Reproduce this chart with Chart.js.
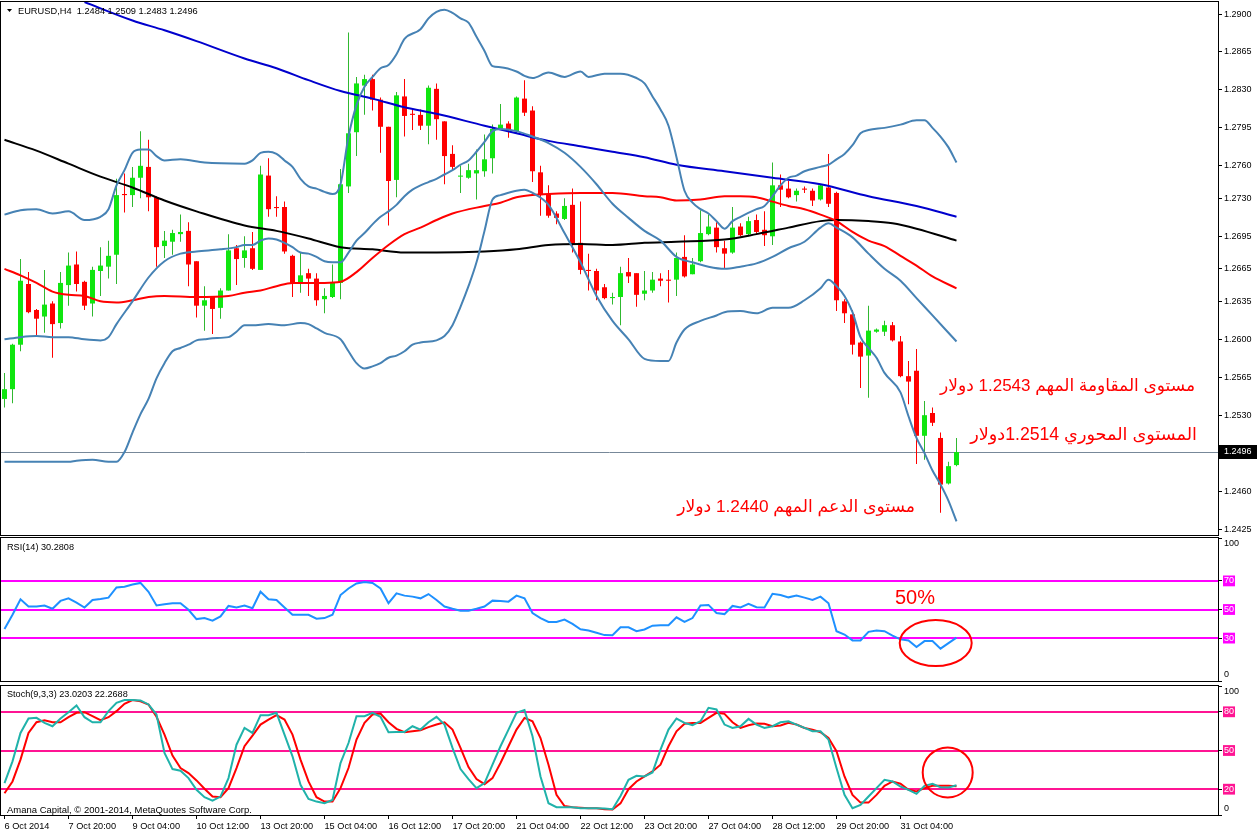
<!DOCTYPE html>
<html>
<head>
<meta charset="utf-8">
<script src="https://cdn.jsdelivr.net/npm/chart.js@4.4.1/dist/chart.umd.min.js"></script>
<style>
html, body { margin: 0; padding: 0; background: #fff; }
#wrap { position: relative; width: 1258px; height: 835px; overflow: hidden; background: #fff; }
canvas { position: absolute; left: 0; }
</style>
</head>
<body>
<div id="wrap">
  <canvas id="main" width="1258" height="536" style="top:0px"></canvas>
  <canvas id="rsi" width="1258" height="147" style="top:536px"></canvas>
  <canvas id="stoch" width="1258" height="152" style="top:683px"></canvas>
</div>
<script>
// EURUSD H4 candles, one per bar
var candleOpen = [
  1.2545, 1.2554, 1.2595, 1.2651, 1.2627, 1.2621, 1.2633, 1.2615, 1.2650, 1.2669,
  1.2653, 1.2633, 1.2663, 1.2667, 1.2678, 1.2734, 1.2733, 1.2749, 1.2759, 1.2731,
  1.2686, 1.2690, 1.2697, 1.2700, 1.2672, 1.2631, 1.2639, 1.2629, 1.2645, 1.2684,
  1.2675, 1.2684, 1.2664, 1.2751, 1.2722, 1.2722, 1.2677, 1.2652, 1.2661, 1.2656,
  1.2637, 1.2639, 1.2652, 1.2741, 1.2791, 1.2834, 1.2840, 1.2821, 1.2796, 1.2747,
  1.2824, 1.2808, 1.2807, 1.2797, 1.2831, 1.2801, 1.2771, 1.2750, 1.2749, 1.2753,
  1.2755, 1.2767, 1.2794, 1.2799, 1.2792, 1.2822, 1.2811, 1.2754, 1.2734, 1.2716,
  1.2711, 1.2724, 1.2689, 1.2664, 1.2663, 1.2648, 1.2638, 1.2639, 1.2662, 1.2661,
  1.2642, 1.2645, 1.2656, 1.2655, 1.2655, 1.2676, 1.2660, 1.2672, 1.2697, 1.2703,
  1.2684, 1.2680, 1.2704, 1.2697, 1.2710, 1.2701, 1.2695, 1.2742, 1.2739, 1.2733,
  1.2739, 1.2737, 1.2729, 1.2740, 1.2735, 1.2635, 1.2623, 1.2597, 1.2585, 1.2607,
  1.2607, 1.2613, 1.2598, 1.2566, 1.2571, 1.2511, 1.2532, 1.2509, 1.2467, 1.2484
];
var candleHigh = [
  1.2569, 1.2596, 1.2674, 1.2662, 1.2628, 1.2664, 1.2635, 1.2662, 1.2680, 1.2681,
  1.2654, 1.2667, 1.2685, 1.2691, 1.2748, 1.2753, 1.2759, 1.2792, 1.2784, 1.2732,
  1.2700, 1.2701, 1.2715, 1.2708, 1.2672, 1.2649, 1.2640, 1.2647, 1.2697, 1.2687,
  1.2695, 1.2699, 1.2760, 1.2767, 1.2732, 1.2727, 1.2678, 1.2680, 1.2665, 1.2661,
  1.2647, 1.2669, 1.2757, 1.2883, 1.2842, 1.2844, 1.2844, 1.2823, 1.2796, 1.2828,
  1.2840, 1.2813, 1.2812, 1.2834, 1.2836, 1.2801, 1.2779, 1.2760, 1.2762, 1.2775,
  1.2789, 1.2798, 1.2817, 1.2801, 1.2824, 1.2839, 1.2815, 1.2760, 1.2742, 1.2718,
  1.2730, 1.2739, 1.2727, 1.2679, 1.2665, 1.2651, 1.2643, 1.2667, 1.2675, 1.2661,
  1.2663, 1.2662, 1.2661, 1.2664, 1.2680, 1.2696, 1.2675, 1.2719, 1.2715, 1.2708,
  1.2691, 1.2722, 1.2707, 1.2713, 1.2715, 1.2718, 1.2763, 1.2752, 1.2746, 1.2739,
  1.2741, 1.2739, 1.2743, 1.2771, 1.2736, 1.2637, 1.2627, 1.2598, 1.2631, 1.2610,
  1.2617, 1.2616, 1.2603, 1.2580, 1.2591, 1.2543, 1.2537, 1.2514, 1.2487, 1.2509
];
var candleLow = [
  1.2537, 1.2541, 1.2589, 1.2624, 1.2604, 1.2606, 1.2583, 1.2610, 1.2631, 1.2644,
  1.2627, 1.2621, 1.2640, 1.2656, 1.2651, 1.2717, 1.2722, 1.2730, 1.2718, 1.2667,
  1.2675, 1.2678, 1.2690, 1.2649, 1.2620, 1.2608, 1.2605, 1.2619, 1.2645, 1.2650,
  1.2666, 1.2664, 1.2664, 1.2713, 1.2713, 1.2679, 1.2639, 1.2643, 1.2640, 1.2631,
  1.2624, 1.2638, 1.2637, 1.2735, 1.2769, 1.2807, 1.2811, 1.2772, 1.2705, 1.2731,
  1.2787, 1.2793, 1.2793, 1.2780, 1.2784, 1.2743, 1.2756, 1.2735, 1.2748, 1.2729,
  1.2750, 1.2753, 1.2793, 1.2786, 1.2790, 1.2806, 1.2745, 1.2714, 1.2712, 1.2706,
  1.2710, 1.2680, 1.2660, 1.2645, 1.2636, 1.2637, 1.2632, 1.2613, 1.2652, 1.2630,
  1.2636, 1.2643, 1.2649, 1.2634, 1.2640, 1.2657, 1.2660, 1.2671, 1.2696, 1.2680,
  1.2665, 1.2679, 1.2695, 1.2695, 1.2697, 1.2686, 1.2687, 1.2722, 1.2730, 1.2727,
  1.2735, 1.2723, 1.2728, 1.2722, 1.2626, 1.2615, 1.2586, 1.2555, 1.2546, 1.2606,
  1.2603, 1.2598, 1.2565, 1.2540, 1.2485, 1.2489, 1.2520, 1.2440, 1.2466, 1.2483
];
var candleClose = [
  1.2554, 1.2595, 1.2654, 1.2625, 1.2619, 1.2632, 1.2614, 1.2652, 1.2668, 1.2651,
  1.2631, 1.2664, 1.2668, 1.2677, 1.2733, 1.2733, 1.2749, 1.2760, 1.2731, 1.2685,
  1.2691, 1.2698, 1.2699, 1.2669, 1.2631, 1.2636, 1.2628, 1.2645, 1.2682, 1.2674,
  1.2682, 1.2665, 1.2752, 1.2720, 1.2721, 1.2681, 1.2652, 1.2659, 1.2656, 1.2636,
  1.2640, 1.2652, 1.2743, 1.2790, 1.2836, 1.2840, 1.2821, 1.2796, 1.2746, 1.2825,
  1.2806, 1.2807, 1.2797, 1.2832, 1.2803, 1.2769, 1.2759, 1.2751, 1.2756, 1.2756,
  1.2766, 1.2794, 1.2798, 1.2793, 1.2823, 1.2809, 1.2755, 1.2733, 1.2714, 1.2712,
  1.2723, 1.2688, 1.2664, 1.2663, 1.2645, 1.2638, 1.2639, 1.2661, 1.2658, 1.2641,
  1.2645, 1.2655, 1.2654, 1.2654, 1.2675, 1.2658, 1.2669, 1.2698, 1.2704, 1.2685,
  1.2679, 1.2703, 1.2696, 1.2709, 1.2699, 1.2696, 1.2742, 1.2738, 1.2731, 1.2737,
  1.2738, 1.2728, 1.2742, 1.2725, 1.2636, 1.2624, 1.2595, 1.2584, 1.2608, 1.2609,
  1.2613, 1.2599, 1.2566, 1.2561, 1.2511, 1.2530, 1.2523, 1.2466, 1.2483, 1.2496
];

// indicator lines: [bar index, price]
var maBlue = [[10,1.2911],[16,1.2894],[20,1.2885],[24,1.2875],[30,1.2859],[34,1.2850],[38,1.2839],[42,1.2829],
  [46,1.2822],[50,1.2814],[54,1.2808],[60,1.2797],[64,1.2790],[68,1.2783],[72,1.2778],[76,1.2773],[80,1.2768],
  [84,1.2761],[90,1.2755],[96,1.2749],[102,1.2743],[108,1.2732],[114,1.2723],[119,1.2713]];
var maBlack = [[0,1.2784],[4,1.2774],[8,1.2762],[12,1.2750],[16,1.2740],[20,1.2728],[24,1.2718],[30,1.2705],
  [34,1.2700],[38,1.2693],[42,1.2685],[46,1.2683],[50,1.2680],[54,1.2680],[60,1.2681],[64,1.2683],[68,1.2687],
  [72,1.2688],[76,1.2687],[80,1.2689],[84,1.2690],[90,1.2692],[94,1.2697],[98,1.2703],[102,1.2709],[104,1.2710],
  [108,1.2709],[111,1.2707],[114,1.2702],[119,1.2691]];
var maRed = [[0,1.2665],[2,1.2659],[4,1.2652],[6,1.2644],[8,1.2641],[10,1.2640],[12,1.2635],[14,1.2634],[16,1.2636],
  [18,1.2639],[20,1.2640],[24,1.2639],[28,1.2640],[30,1.2643],[32,1.2645],[34,1.2649],[36,1.2652],[38,1.2652],
  [40,1.2652],[42,1.2653],[44,1.2662],[46,1.2675],[48,1.2687],[50,1.2697],[52,1.2703],[54,1.2710],[56,1.2716],
  [60,1.2723],[62,1.2726],[64,1.2731],[66,1.2733],[68,1.2734],[72,1.2735],[76,1.2735],[80,1.2732],[82,1.2731],
  [84,1.2728],[87,1.2729],[90,1.2732],[92,1.2732],[94,1.2731],[96,1.2727],[98,1.2723],[100,1.2720],[102,1.2715],
  [104,1.2709],[106,1.2699],[108,1.2691],[110,1.2686],[112,1.2677],[114,1.2668],[116,1.2658],[119,1.2647]];
var bandUpper = [[0,1.2715],[2,1.2719],[4,1.2720],[6,1.2716],[8,1.2718],[10,1.2710],[12,1.2713],[13,1.2720],
  [14,1.2742],[15,1.2756],[16,1.2772],[17,1.2775],[18,1.2775],[19,1.2769],[20,1.2765],[22,1.2766],[25,1.2763],
  [30,1.2762],[31,1.2765],[32,1.2772],[33,1.2773],[34,1.2771],[35,1.2765],[36,1.2759],[37,1.2748],[38,1.2741],
  [39,1.2739],[40,1.2736],[41,1.2734],[42,1.2743],[43,1.2787],[44,1.2816],[45,1.2833],[46,1.2842],[47,1.2850],
  [48,1.2853],[49,1.2863],[50,1.2877],[52,1.2886],[53,1.2896],[54,1.2902],[55,1.2904],[56,1.2901],[57,1.2896],
  [58,1.2892],[59,1.2879],[60,1.2866],[61,1.2852],[62,1.2851],[64,1.2847],[65,1.2843],[66,1.2841],[68,1.2846],
  [70,1.2842],[72,1.2847],[73,1.2842],[75,1.2845],[77,1.2845],[79,1.2841],[80,1.2836],[81,1.2824],[82,1.2812],
  [83,1.2797],[84,1.2768],[85,1.2737],[86,1.2726],[87,1.2720],[88,1.2716],[89,1.2709],[90,1.2702],[91,1.2709],
  [92,1.2713],[94,1.2720],[95,1.2723],[96,1.2732],[97,1.2742],[98,1.2749],[99,1.2751],[100,1.2755],[102,1.2759],
  [103,1.2761],[104,1.2766],[105,1.2771],[106,1.2779],[107,1.2790],[108,1.2793],[110,1.2795],[112,1.2798],
  [114,1.2802],[115,1.2802],[116,1.2795],[117,1.2787],[118,1.2777],[119,1.2763]];
var bandMiddle = [[0,1.2600],[2,1.2602],[4,1.2603],[6,1.2602],[8,1.2602],[10,1.2600],[12,1.2599],[13,1.2602],
  [14,1.2614],[16,1.2635],[18,1.2657],[20,1.2672],[22,1.2679],[24,1.2681],[27,1.2683],[29,1.2685],[30,1.2687],
  [31,1.2687],[32,1.2691],[33,1.2693],[34,1.2692],[35,1.2689],[36,1.2685],[37,1.2680],[38,1.2679],[39,1.2676],
  [40,1.2672],[41,1.2671],[42,1.2671],[43,1.2680],[44,1.2691],[45,1.2698],[46,1.2706],[47,1.2713],[48,1.2718],
  [49,1.2724],[50,1.2732],[51,1.2738],[52,1.2742],[53,1.2745],[54,1.2748],[55,1.2752],[56,1.2756],[57,1.2761],
  [58,1.2765],[59,1.2773],[60,1.2782],[61,1.2792],[62,1.2794],[64,1.2792],[66,1.2787],[68,1.2781],[70,1.2772],
  [72,1.2759],[74,1.2743],[76,1.2725],[78,1.2712],[80,1.2700],[82,1.2691],[84,1.2676],[86,1.2671],[88,1.2667],
  [90,1.2665],[92,1.2667],[94,1.2670],[96,1.2676],[98,1.2684],[100,1.2690],[102,1.2703],[103,1.2707],[104,1.2703],
  [106,1.2694],[108,1.2679],[110,1.2665],[112,1.2654],[114,1.2638],[116,1.2622],[119,1.2598]];
var bandLower = [[0,1.2487],[4,1.2487],[8,1.2487],[9,1.2488],[11,1.2489],[13,1.2487],[14,1.2487],[15,1.2496],
  [16,1.2514],[17,1.2531],[18,1.2545],[19,1.2564],[20,1.2578],[21,1.2589],[22,1.2592],[23,1.2595],[24,1.2599],
  [25,1.2600],[26,1.2601],[28,1.2602],[29,1.2607],[30,1.2613],[31,1.2613],[33,1.2614],[35,1.2613],[37,1.2615],
  [38,1.2614],[39,1.2610],[40,1.2606],[42,1.2600],[43,1.2589],[44,1.2578],[45,1.2573],[46,1.2575],[47,1.2578],
  [48,1.2583],[49,1.2585],[50,1.2589],[51,1.2595],[52,1.2597],[54,1.2599],[55,1.2603],[56,1.2613],[57,1.2630],
  [58,1.2649],[59,1.2671],[60,1.2700],[61,1.2729],[62,1.2733],[64,1.2737],[65,1.2738],[66,1.2735],[68,1.2724],
  [70,1.2698],[72,1.2671],[74,1.2640],[76,1.2617],[78,1.2600],[80,1.2582],[82,1.2580],[83,1.2580],[84,1.2597],
  [85,1.2609],[87,1.2617],[89,1.2622],[90,1.2625],[92,1.2626],[94,1.2624],[96,1.2629],[98,1.2629],[100,1.2636],
  [102,1.2647],[103,1.2655],[104,1.2649],[105,1.2640],[106,1.2625],[107,1.2602],[108,1.2592],[109,1.2583],
  [110,1.2569],[112,1.2551],[113,1.2529],[114,1.2509],[115,1.2495],[116,1.2479],[117,1.2466],[118,1.2451],[119,1.2432]];

var rsiValues = [
  36.4, 46.3, 57.1, 52.1, 52.1, 52.8, 50.5, 56.0, 57.8, 54.8,
  51.4, 56.7, 57.4, 58.3, 65.4, 65.9, 67.5, 68.6, 62.4, 52.8,
  53.7, 54.4, 54.4, 49.8, 43.3, 44.0, 42.2, 45.2, 52.5, 51.4,
  52.8, 50.9, 62.4, 57.1, 56.7, 51.4, 46.3, 46.3, 46.3, 43.6,
  44.0, 46.3, 60.1, 64.7, 68.2, 69.3, 68.6, 64.7, 54.4, 61.3,
  59.7, 59.0, 57.8, 60.8, 56.7, 52.1, 50.5, 49.1, 49.1, 50.5,
  52.1, 56.2, 56.0, 55.5, 59.7, 57.8, 47.5, 44.0, 41.3, 41.3,
  42.9, 39.9, 36.2, 35.3, 33.7, 32.1, 32.0, 37.6, 37.6, 34.8,
  36.0, 38.7, 39.0, 39.0, 44.5, 41.3, 44.0, 52.8, 53.2, 47.5,
  46.8, 52.5, 51.4, 53.9, 51.6, 51.4, 61.0, 60.1, 58.5, 59.7,
  58.3, 56.7, 59.0, 54.4, 34.8, 32.5, 28.4, 28.4, 34.4, 35.3,
  34.8, 31.8, 29.1, 28.4, 23.8, 27.9, 27.9, 22.6, 26.5, 30.3
];
var stochMain = [
  24.7, 41.6, 63.6, 74.8, 75.3, 71.4, 68.8, 74.8, 79.7, 84.9,
  75.8, 71.9, 71.9, 80.5, 87.0, 89.1, 89.1, 88.8, 85.7, 77.9,
  48.1, 35.6, 34.3, 28.6, 19.5, 13.8, 11.2, 14.3, 28.6, 54.5,
  67.5, 63.6, 77.4, 77.4, 79.2, 62.3, 45.5, 23.4, 12.5, 10.4,
  9.1, 11.7, 40.3, 55.8, 76.6, 76.6, 79.2, 76.1, 64.2, 64.4,
  64.4, 68.8, 66.2, 71.9, 76.1, 70.1, 52.0, 35.6, 27.8, 20.8,
  24.7, 39.0, 53.3, 66.2, 79.2, 81.3, 61.0, 29.9, 9.1, 6.0,
  6.0, 6.0, 5.2, 5.2, 5.2, 5.0, 4.5, 14.8, 27.3, 30.4,
  29.9, 33.0, 50.7, 66.2, 74.8, 71.4, 69.6, 72.7, 83.1, 81.8,
  70.1, 67.5, 68.8, 74.5, 70.1, 67.5, 68.8, 71.9, 72.7, 70.1,
  67.5, 64.9, 64.9, 58.4, 36.4, 15.6, 5.2, 7.8, 14.3, 20.8,
  27.3, 26.0, 22.1, 19.5, 16.4, 22.6, 24.2, 21.6, 21.3, 23.0
];
var stochSignal = [
  16.9, 26.0, 42.9, 63.6, 71.9, 73.5, 71.9, 71.9, 75.8, 79.2,
  79.7, 76.6, 73.5, 75.8, 80.5, 86.2, 89.1, 88.1, 85.7, 76.1,
  62.3, 46.0, 36.4, 32.5, 26.8, 20.3, 14.3, 13.8, 20.8, 36.4,
  53.3, 61.6, 70.1, 74.0, 77.4, 74.0, 62.3, 42.9, 26.0, 13.8,
  10.4, 10.4, 20.8, 36.4, 58.5, 71.4, 77.9, 78.7, 71.9, 66.8,
  64.2, 64.9, 65.7, 68.1, 70.1, 71.9, 66.2, 52.0, 37.1, 27.8,
  23.9, 28.6, 40.3, 53.3, 66.2, 75.3, 72.7, 59.7, 39.0, 15.6,
  7.0, 6.0, 5.7, 5.2, 5.2, 4.4, 4.2, 9.0, 20.0, 26.0,
  29.9, 33.8, 39.0, 53.3, 64.9, 70.7, 71.4, 71.4, 75.3, 79.2,
  78.4, 71.9, 67.5, 69.6, 70.9, 70.7, 68.8, 69.4, 71.4, 70.1,
  67.5, 66.2, 64.2, 59.7, 49.4, 29.9, 15.6, 9.6, 9.6, 15.6,
  22.6, 26.0, 24.2, 19.5, 18.2, 20.8, 22.6, 22.6, 22.6, 22.3
];

var priceTicks = [1.2900, 1.2865, 1.2830, 1.2795, 1.2760, 1.2730, 1.2695, 1.2665, 1.2635, 1.2600, 1.2565, 1.2530, 1.2460, 1.2425];
var priceMin = 1.24195, priceMax = 1.29111;
var lastPrice = 1.2496;
var rsiTicks = [100, 70, 50, 30, 0];
var rsiLevels = [70, 50, 30];
var stochTicks = [100, 80, 50, 20, 0];
var stochLevels = [80, 50, 20];
var dateTickIndex = [0, 8, 16, 24, 32, 40, 48, 56, 64, 72, 80, 88, 96, 104, 112];
var dateLabels = ["6 Oct 2014", "7 Oct 20:00", "9 Oct 04:00", "10 Oct 12:00", "13 Oct 20:00", "15 Oct 04:00",
  "16 Oct 12:00", "17 Oct 20:00", "21 Oct 04:00", "22 Oct 12:00", "23 Oct 20:00", "27 Oct 04:00",
  "28 Oct 12:00", "29 Oct 20:00", "31 Oct 04:00"];

var FONT = '"Liberation Sans", Arial, sans-serif';
var AR_FONT = '"Liberation Sans", "DejaVu Sans", sans-serif';
var X_MIN = -0.4375, X_MAX = 151.6875;

Chart.defaults.font.family = FONT;
Chart.defaults.animation = false;

function fitFont(ctx, text, width, base, family) {
  ctx.font = base + 'px ' + family;
  var w = ctx.measureText(text).width;
  var size = base * width / w;
  size = Math.max(base * 0.75, Math.min(base * 1.3, size));
  ctx.font = size.toFixed(2) + 'px ' + family;
}

function drawFrame(chart) {
  var ctx = chart.ctx, a = chart.chartArea;
  ctx.save();
  ctx.strokeStyle = '#000';
  ctx.lineWidth = 1;
  ctx.strokeRect(a.left - 0.5, a.top - 0.5, a.right - a.left + 1, a.bottom - a.top + 1);
  ctx.restore();
}

function drawLevels(chart, levels, color) {
  var ctx = chart.ctx, a = chart.chartArea, ys = chart.scales.y;
  ctx.save();
  ctx.strokeStyle = color;
  ctx.lineWidth = 2;
  levels.forEach(function (v) {
    var y = Math.round(ys.getPixelForValue(v));
    ctx.beginPath(); ctx.moveTo(a.left, y); ctx.lineTo(a.right, y); ctx.stroke();
  });
  ctx.restore();
}

function edgeLabels(chart, top, bottom) {
  var ctx = chart.ctx, a = chart.chartArea;
  ctx.save();
  ctx.fillStyle = '#000';
  ctx.font = '9px ' + FONT;
  ctx.textBaseline = 'middle';
  ctx.textAlign = 'left';
  ctx.fillText(top, a.right + 6, a.top + 6);
  ctx.fillText(bottom, a.right + 6, a.bottom - 6);
  ctx.restore();
}

function panelTitle(chart, text, y, width) {
  var ctx = chart.ctx;
  ctx.save();
  ctx.fillStyle = '#000';
  fitFont(ctx, text, width, 10, FONT);
  ctx.textBaseline = 'middle';
  ctx.textAlign = 'left';
  ctx.fillText(text, 7, y);
  ctx.restore();
}

function xAxis(show) {
  var ax = {
    type: 'linear', min: X_MIN, max: X_MAX, offset: false, display: show
  };
  if (show) {
    ax.position = 'bottom';
    ax.afterBuildTicks = function (s) { s.ticks = dateTickIndex.map(function (v) { return { value: v }; }); };
    ax.afterFit = function (s) { s.height = 20; s.paddingLeft = 0; s.paddingRight = 0; };
    ax.grid = { drawOnChartArea: false, drawTicks: true, tickLength: 4, color: '#000' };
    ax.border = { display: false };
    ax.ticks = {
      autoSkip: false, maxRotation: 0, minRotation: 0, align: 'start', padding: 2, color: '#000',
      font: { size: 9.2, family: FONT },
      callback: function (v, i) { return dateLabels[i]; }
    };
  }
  return ax;
}

function yAxis(min, max, ticks, fmt, levels, levelColor) {
  return {
    type: 'linear', position: 'right', min: min, max: max,
    afterFit: function (s) { s.width = 40; s.paddingTop = 0; s.paddingBottom = 0; },
    afterBuildTicks: function (s) { s.ticks = ticks.map(function (v) { return { value: v }; }); },
    grid: { drawOnChartArea: false, drawTicks: true, tickLength: 4, color: '#000' },
    border: { display: false },
    ticks: {
      autoSkip: false, padding: 2,
      font: { size: 9, family: FONT },
      color: function (c) { return levels.indexOf(c.tick.value) >= 0 ? '#fff' : '#000'; },
      showLabelBackdrop: true,
      backdropColor: function (c) { return levels.indexOf(c.tick.value) >= 0 ? levelColor : 'rgba(0,0,0,0)'; },
      backdropPadding: { top: 0, bottom: 0, left: 1, right: 1 },
      callback: fmt
    }
  };
}

function lineSet(pairs, color) {
  return {
    type: 'line',
    data: pairs.map(function (p) { return { x: p[0], y: p[1] }; }),
    borderColor: color, borderWidth: 2, pointRadius: 0, fill: false,
    cubicInterpolationMode: 'monotone', order: 1
  };
}

function seriesSet(values, color) {
  return {
    type: 'line',
    data: values.map(function (v, i) { return { x: i, y: v }; }),
    borderColor: color, borderWidth: 2, pointRadius: 0, fill: false, tension: 0, order: 1
  };
}

var isUp = candleClose.map(function (c, i) { return c > candleOpen[i]; });
var wickData = candleHigh.map(function (h, i) { return { x: i, y: [candleLow[i], h] }; });
var bodyData = candleOpen.map(function (o, i) { return { x: i, y: [o, candleClose[i]] }; });

var mainPlugin = {
  id: 'mainDecor',
  beforeDatasetsDraw: function (chart) {
    var ctx = chart.ctx, a = chart.chartArea;
    var y = Math.round(chart.scales.y.getPixelForValue(lastPrice)) + 0.5;
    ctx.save();
    ctx.strokeStyle = '#778899';
    ctx.lineWidth = 1;
    ctx.beginPath(); ctx.moveTo(a.left, y); ctx.lineTo(a.right, y); ctx.stroke();
    ctx.restore();
  },
  afterDatasetsDraw: function (chart) { drawFrame(chart); },
  afterDraw: function (chart) {
    var ctx = chart.ctx, a = chart.chartArea;
    var y = Math.round(chart.scales.y.getPixelForValue(lastPrice));
    ctx.save();
    ctx.fillStyle = '#000';
    ctx.fillRect(a.right + 1, y - 7, 38, 14);
    ctx.fillStyle = '#fff';
    ctx.font = '9px ' + FONT;
    ctx.textBaseline = 'middle';
    ctx.textAlign = 'left';
    ctx.fillText(lastPrice.toFixed(4), a.right + 6, y);

    // header
    ctx.fillStyle = '#000';
    ctx.beginPath(); ctx.moveTo(7, 9); ctx.lineTo(12, 9); ctx.lineTo(9.5, 12); ctx.closePath(); ctx.fill();
    var head = 'EURUSD,H4  ' + [candleOpen[119], candleHigh[119], candleLow[119], candleClose[119]]
      .map(function (v) { return v.toFixed(4); }).join(' ');
    fitFont(ctx, head, 180, 10, FONT);
    ctx.fillText(head, 18, 11);

    // red notes
    var notes = [
      ['مستوى المقاومة المهم 1.2543 دولار', 1195, 386, 255],
      ['المستوى المحوري 1.2514دولار', 1197, 435, 227],
      ['مستوى الدعم المهم 1.2440 دولار', 915, 507, 238]
    ];
    ctx.fillStyle = '#ff0000';
    ctx.direction = 'rtl';
    ctx.textAlign = 'right';
    notes.forEach(function (n) {
      fitFont(ctx, n[0], n[3], 17, AR_FONT);
      ctx.fillText(n[0], n[1], n[2]);
    });
    ctx.restore();
  }
};

new Chart(document.getElementById('main'), {
  type: 'line',
  data: {
    datasets: [
      { type: 'bar', data: wickData, barThickness: 1, grouped: false, inflateAmount: 0, order: 3,
        backgroundColor: isUp.map(function (u) { return u ? '#30b830' : '#ff0000'; }) },
      { type: 'bar', data: bodyData, barThickness: 5, minBarLength: 1, grouped: false, inflateAmount: 0, order: 2,
        backgroundColor: isUp.map(function (u) { return u ? '#10e610' : '#ff0000'; }) },
      lineSet(bandUpper, '#4682b4'),
      lineSet(bandMiddle, '#4682b4'),
      lineSet(bandLower, '#4682b4'),
      lineSet(maRed, '#ff0000'),
      lineSet(maBlack, '#000000'),
      lineSet(maBlue, '#0000cd')
    ]
  },
  options: {
    responsive: false, animation: false, events: [],
    layout: { padding: { left: 1, top: 2, right: 0, bottom: 1 } },
    plugins: { legend: { display: false }, tooltip: { enabled: false } },
    scales: {
      x: xAxis(false),
      y: yAxis(priceMin, priceMax, priceTicks, function (v) { return v.toFixed(4); }, [], '#000')
    }
  },
  plugins: [mainPlugin]
});

var rsiPlugin = {
  id: 'rsiDecor',
  beforeDatasetsDraw: function (chart) { drawLevels(chart, rsiLevels, '#ff00ff'); },
  afterDatasetsDraw: function (chart) {
    drawFrame(chart);
    var ctx = chart.ctx, xs = chart.scales.x, ys = chart.scales.y;
    edgeLabels(chart, '100', '0');
    panelTitle(chart, 'RSI(14) 30.2808', chart.chartArea.top + 9, 67);
    ctx.save();
    ctx.fillStyle = '#ff0000';
    ctx.font = '20px ' + FONT;
    ctx.textAlign = 'center';
    ctx.textBaseline = 'middle';
    ctx.fillText('50%', 915, 62);
    ctx.strokeStyle = '#ff0000';
    ctx.lineWidth = 2;
    ctx.beginPath();
    ctx.ellipse(xs.getPixelForValue(116.4), ys.getPixelForValue(26.5), 36, 23, 0, 0, Math.PI * 2);
    ctx.stroke();
    ctx.restore();
  }
};

new Chart(document.getElementById('rsi'), {
  type: 'line',
  data: { datasets: [seriesSet(rsiValues, '#1e90ff')] },
  options: {
    responsive: false, animation: false, events: [],
    layout: { padding: { left: 1, top: 2, right: 0, bottom: 2 } },
    plugins: { legend: { display: false }, tooltip: { enabled: false } },
    scales: {
      x: xAxis(false),
      y: yAxis(0, 100, rsiTicks, function (v) { return (v === 100 || v === 0) ? '' : String(v); }, rsiLevels, '#ff00ff')
    }
  },
  plugins: [rsiPlugin]
});

var stochPlugin = {
  id: 'stochDecor',
  beforeDatasetsDraw: function (chart) { drawLevels(chart, stochLevels, '#ff1493'); },
  afterDatasetsDraw: function (chart) {
    drawFrame(chart);
    var ctx = chart.ctx, xs = chart.scales.x, ys = chart.scales.y, a = chart.chartArea;
    edgeLabels(chart, '100', '0');
    panelTitle(chart, 'Stoch(9,3,3) 23.0203 22.2688', a.top + 8, 121);
    panelTitle(chart, 'Amana Capital, \u00a9 2001-2014, MetaQuotes Software Corp.', a.bottom - 5, 245);
    ctx.save();
    ctx.strokeStyle = '#ff0000';
    ctx.lineWidth = 2;
    ctx.beginPath();
    ctx.ellipse(xs.getPixelForValue(117.9), ys.getPixelForValue(33), 25, 25, 0, 0, Math.PI * 2);
    ctx.stroke();
    ctx.restore();
  }
};

new Chart(document.getElementById('stoch'), {
  type: 'line',
  data: { datasets: [seriesSet(stochMain, '#20b2aa'), seriesSet(stochSignal, '#ff0000')] },
  options: {
    responsive: false, animation: false, events: [],
    layout: { padding: { left: 1, top: 3, right: 0, bottom: 0 } },
    plugins: { legend: { display: false }, tooltip: { enabled: false } },
    scales: {
      x: xAxis(true),
      y: yAxis(0, 100, stochTicks, function (v) { return (v === 100 || v === 0) ? '' : String(v); }, stochLevels, '#ff1493')
    }
  },
  plugins: [stochPlugin]
});
</script>
</body>
</html>
